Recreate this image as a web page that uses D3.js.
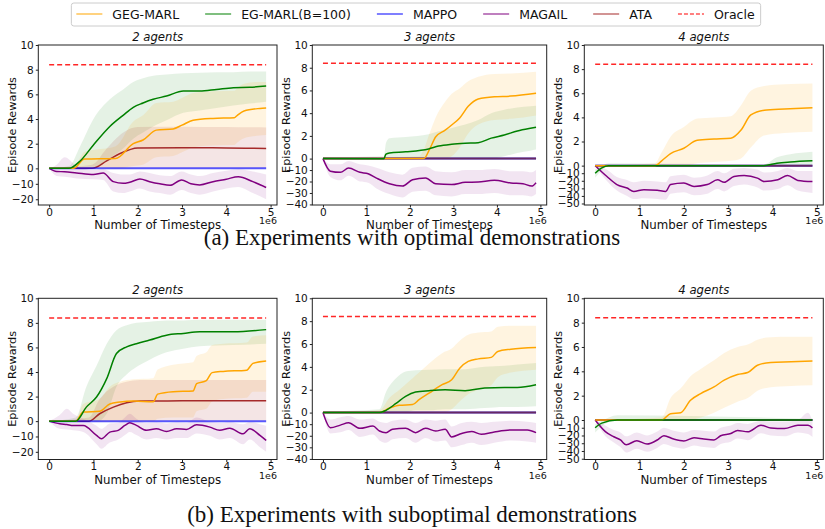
<!DOCTYPE html>
<html>
<head>
<meta charset="utf-8">
<script src="https://cdn.jsdelivr.net/npm/d3@7"></script>
<style>
  body { margin: 0; background: #fff; }
  svg text { font-family: "DejaVu Sans", sans-serif; fill: #111; }
</style>
</head>
<body>
<svg width="825" height="529"></svg>
<script>
// ---- data. rows are [timestep (1e6), mean, band low, band high]
var seriesNames = ["GEG-MARL", "EG-MARL(B=100)", "MAPPO", "MAGAIL", "ATA", "Oracle"];
var panelTitles = ["2 agents", "3 agents", "4 agents", "2 agents", "3 agents", "4 agents"];
var captions = ["(a) Experiments with optimal demonstrations", "(b) Experiments with suboptimal demonstrations"];
var xTicks = [0, 1, 2, 3, 4, 5];
var yTicks2 = [10, 8, 6, 4, 2, 0, -10, -20];
var yTicks3 = [10, 8, 6, 4, 2, 0, -10, -20, -30, -40];
var yTicks4 = [10, 8, 6, 4, 2, 0, -10, -20, -30, -40, -50];
var yBottom = [-23.7, -40.5, -52, -25, -40.5, -51];
var oracle = [8.4, 8.4, 8.4, 8.4, 8.4, 8.4];
var flat = [[0, 0, 0, 0], [4.9, 0, 0, 0]];

// (a) optimal, 2 agents
var a1_geg = [[0,0,0,0],[0.55,0,-0.1,0.1],[0.8,0.75,0.15,1.35],[1.5,0.8,-0.2,1.8],[1.9,2.0,0.2,3.8],[2.12,2.3,0.3,4.3],[2.42,3.1,0.9,5.3],[2.8,3.2,1.0,5.4],[3.0,3.5,1.3,5.7],[3.25,3.9,1.7,6.1],[3.7,4.05,1.85,6.25],[4.18,4.1,1.9,6.3],[4.25,4.3,2.1,6.5],[4.4,4.65,2.45,6.85],[4.76,4.86,2.66,7.0],[4.9,4.9,2.7,7.0]];
var a1_eg = [[0,0,0,0],[0.45,0,-0.2,0.2],[0.7,0.6,-0.6,1.8],[1.0,1.9,-0.2,4.0],[1.37,3.4,0.8,5.6],[1.67,4.3,1.6,6.4],[1.9,4.95,2.4,7.0],[2.12,5.3,2.9,7.3],[2.35,5.6,3.4,7.5],[2.65,5.86,3.9,7.6],[3.03,6.27,4.5,7.7],[3.4,6.27,4.7,7.75],[3.78,6.4,4.9,7.8],[4.16,6.54,5.1,7.8],[4.53,6.57,5.25,7.85],[4.9,6.67,5.4,7.85]];
var a1_ata = [[0,0,0,0],[0.97,0,-0.3,0.3],[1.3,0.6,-0.4,1.6],[1.6,1.2,-0.3,2.7],[2.0,1.65,-0.05,3.35],[3.0,1.68,-0.02,3.38],[4.0,1.65,-0.05,3.35],[4.9,1.62,-0.08,3.32]];
var a1_magail = [[0,0,0,0],[0.17,-2,-5,0.3],[0.35,-2.2,-5.5,0.9],[0.62,-3,-6.5,0.2],[1.0,-4,-7,-1],[1.22,-3,-7.5,-0.5],[1.45,-8.6,-15,-3],[1.67,-9.7,-16,-4],[1.82,-9,-15,-4],[2.05,-6.9,-13,-2],[2.27,-8.6,-15,-3],[2.5,-10,-16,-4.5],[2.73,-11,-17,-5],[2.99,-7.5,-14,-2],[3.2,-10,-16,-4],[3.4,-10.7,-17,-5],[3.7,-8.6,-15,-3],[4.0,-7,-13,-1.5],[4.27,-5.4,-12,-0.5],[4.6,-8.6,-16,-2],[4.9,-12.4,-20,-4]];

// (a) optimal, 3 agents
var a2_geg = [[0,0,0,0],[2.2,0,-0.1,0.2],[2.32,0,-0.2,0.8],[2.45,0.8,-0.3,2.2],[2.59,1.9,-0.2,3.6],[2.81,2.5,0,5.0],[2.96,2.96,0.2,5.7],[3.15,3.6,1.0,6.2],[3.34,4.6,2.2,6.8],[3.57,5.25,3.0,7.2],[3.94,5.45,3.4,7.45],[4.32,5.5,3.5,7.5],[4.9,5.75,3.8,7.65]];
var a2_eg = [[0,0,-0.1,0.1],[1.4,-0.05,-0.3,0.2],[1.45,0.4,-0.6,1.4],[1.53,0.5,-0.8,1.8],[1.9,0.6,-0.7,1.9],[2.43,0.85,-0.45,2.15],[2.66,1.1,-0.2,2.4],[2.96,1.26,-0.1,2.7],[3.27,1.35,-0.2,3.0],[3.57,1.4,-0.3,3.4],[3.87,1.8,-0.2,4.0],[4.17,2.08,0.2,4.3],[4.47,2.43,0.5,4.5],[4.77,2.67,0.7,4.6],[4.9,2.76,0.8,4.65]];
var a2_magail = [[0,0,0,0],[0.17,-11,-16,-5],[0.4,-12,-19,-5],[0.59,-8.3,-15,-2],[0.85,-12,-20,-5],[1.04,-13.2,-21,-6],[1.23,-17,-26,-8],[1.53,-22,-31,-12],[1.83,-24,-34,-14],[2.06,-18.4,-29,-8],[2.36,-17,-28,-7],[2.59,-22,-32,-11],[2.96,-22.7,-33,-12],[3.27,-20.7,-31,-10],[3.57,-20.4,-31,-10],[3.94,-19,-30,-9],[4.32,-21.3,-32,-11],[4.6,-22,-32,-11],[4.8,-24,-33,-12],[4.9,-21,-31,-10]];

// (a) optimal, 4 agents
var a3_geg = [[0,0,0,0],[1.35,0,-0.1,0.2],[1.5,0.4,-0.3,1.1],[1.7,1.0,-0.4,2.4],[2.0,1.44,-0.2,3.2],[2.3,2.1,0.2,3.9],[2.68,2.2,0.3,4.0],[3.06,2.27,0.4,4.1],[3.29,2.95,0.6,5.0],[3.51,4.2,1.5,6.2],[3.81,4.6,2.5,6.6],[4.27,4.7,2.7,6.75],[4.9,4.8,2.8,6.8]];
var a3_eg = [[0,-10,-16,-5],[0.15,-3,-6,-0.5],[0.3,0,-0.3,0.2],[3.8,0,-0.1,0.1],[4.1,0.2,-0.2,0.7],[4.4,0.3,-0.1,0.95],[4.9,0.4,-0.1,1.15]];
var a3_magail = [[0,0,0,0],[0.26,-14,-20,-5],[0.49,-25,-33,-15],[0.72,-29.6,-40,-19],[0.87,-34,-44,-22],[1.1,-31.7,-43,-20],[1.4,-32.6,-44,-21],[1.59,-34,-45,-22],[1.7,-25,-37,-14],[2.0,-23,-35,-12],[2.23,-27.4,-39,-16],[2.53,-25,-37,-13],[2.76,-18.7,-31,-7],[2.91,-22,-34,-10],[3.13,-14.3,-27,-4],[3.36,-13,-25,-3],[3.66,-16.5,-29,-5],[3.81,-21,-33,-9],[4.12,-18.7,-31,-7],[4.34,-13,-26,-3],[4.57,-19.5,-33,-7],[4.9,-21,-36,-7]];

// (b) suboptimal, 2 agents
var b1_geg = [[0,0,0,0],[0.6,0,-0.1,0.1],[0.77,0.74,0.1,1.4],[1.14,0.8,-0.2,1.8],[1.37,1.4,0,2.8],[1.6,1.55,0,3.2],[1.9,1.63,-0.1,3.4],[2.35,1.58,-0.2,3.5],[2.45,2.2,0.2,4.2],[2.8,2.4,0.3,4.6],[3.25,2.45,0.3,4.8],[3.33,3.05,0.8,5.3],[3.55,3.3,1.0,5.6],[3.68,3.95,1.6,6.2],[3.93,4.05,1.8,6.3],[4.46,4.15,1.9,6.4],[4.6,4.7,2.4,6.9],[4.9,4.9,2.4,7.0]];
var b1_eg = [[0,0,0,0],[0.6,0,-0.2,0.3],[0.84,1.14,-0.4,2.8],[1.07,1.96,-0.4,4.5],[1.3,3.46,0.6,6.3],[1.52,5.5,2.8,7.4],[1.75,6.05,3.8,7.8],[1.97,6.3,4.4,8.0],[2.27,6.6,5.0,8.1],[2.65,7.0,5.6,8.2],[3.03,7.14,5.9,8.2],[3.4,7.27,6.1,8.25],[4.16,7.27,6.2,8.25],[4.9,7.45,6.3,8.25]];
var b1_ata = [[0,0,0,0],[0.9,0,-0.3,0.3],[1.14,0.6,-0.5,1.8],[1.45,1.14,-0.4,2.8],[1.75,1.5,-0.2,3.2],[2.05,1.63,-0.05,3.35],[3.0,1.65,-0.05,3.35],[4.0,1.65,-0.05,3.35],[4.9,1.65,-0.05,3.35]];
var b1_magail = [[0,0,0,0],[0.24,-1.7,-5,0.5],[0.4,-2.2,-5.5,1.0],[0.54,-2.8,-6,0.6],[0.77,-2.8,-7,0.2],[1.07,-9.3,-15,-3],[1.18,-11.5,-18,-5],[1.37,-7.2,-14,-1.5],[1.56,-6,-12,-1],[1.71,-2.8,-9,0.3],[1.82,-1.1,-7,0.6],[1.97,-2.8,-9,0.2],[2.2,-6,-12,-1],[2.42,-5,-11,-0.8],[2.65,-6.7,-12,-1.5],[2.88,-5,-11,-0.8],[3.1,-5.4,-11,-1],[3.33,-2.4,-8,0.3],[3.63,-3.9,-9.5,-0.3],[3.85,-6,-12,-1],[4.08,-4.6,-11,-0.5],[4.38,-8.3,-15,-2],[4.53,-5,-12,-0.5],[4.76,-9.3,-17,-2],[4.9,-12.6,-20,-3]];

// (b) suboptimal, 3 agents
var b2_geg = [[0,0,0,0],[1.3,0,-0.1,0.2],[1.53,0.4,-0.3,1.3],[1.76,0.64,-0.4,2.0],[2.06,0.7,-0.6,3.0],[2.21,1.13,-0.5,3.5],[2.44,1.7,-0.3,4.3],[2.74,2.44,0,5.2],[2.96,2.88,0.3,5.6],[3.15,3.9,1.0,6.3],[3.34,4.48,1.6,6.8],[3.57,4.7,2.0,7.0],[3.87,4.83,2.4,7.1],[4.02,5.35,3.1,7.5],[4.32,5.55,3.5,7.6],[4.9,5.7,3.75,7.6]];
var b2_eg = [[0,0,-0.1,0.1],[1.3,0,-0.2,0.3],[1.45,0.2,-0.5,1.8],[1.68,0.8,-0.3,3.0],[1.9,1.42,0,3.6],[2.13,1.8,0.2,3.7],[2.44,1.92,0.2,3.75],[2.81,2.0,0.3,3.8],[3.27,1.92,0.3,3.8],[3.72,2.15,0.4,4.0],[4.17,2.2,0.5,4.1],[4.47,2.2,0.5,4.2],[4.9,2.44,0.55,4.33]];
var b2_magail = [[0,0,0,0],[0.17,-13,-18,-6],[0.4,-10.8,-17,-4],[0.59,-8.8,-15,-3],[0.85,-13.6,-21,-6],[1.15,-11.6,-19,-5],[1.3,-15.9,-24,-8],[1.45,-17.3,-26,-9],[1.6,-14.4,-23,-7],[1.9,-13.6,-22,-6],[2.13,-17.3,-26,-9],[2.36,-13.6,-22,-6],[2.59,-15.9,-25,-7],[2.81,-14.4,-24,-6],[2.96,-21,-30,-12],[3.19,-18,-28,-9],[3.42,-16.4,-26,-8],[3.64,-18.7,-28,-9],[3.94,-16.7,-26,-8],[4.32,-15,-24,-7],[4.7,-15,-25,-8],[4.9,-17.3,-26,-9]];

// (b) suboptimal, 4 agents
var b3_geg = [[0,0,0,0],[1.5,0,-0.1,0.2],[1.7,0.52,-0.3,1.8],[1.93,0.6,-0.4,2.6],[2.15,1.62,-0.1,3.6],[2.38,2.17,0.2,4.2],[2.68,2.72,0.6,4.9],[2.91,3.27,1.0,5.5],[3.21,3.74,1.5,6.0],[3.44,3.9,1.8,6.2],[3.66,4.5,2.4,6.6],[3.96,4.73,2.7,6.8],[4.42,4.78,2.8,6.84],[4.9,4.84,2.86,6.84]];
var b3_eg = [[0,-10,-16,-5],[0.15,-4,-8,-1],[0.5,0,-0.3,0.4],[4.9,0,-0.1,0.1]];
var b3_magail = [[0,0,0,0],[0.23,-15,-21,-7],[0.42,-21.6,-29,-13],[0.57,-25.8,-35,-16],[0.7,-32,-42,-21],[0.94,-26.7,-37,-16],[1.17,-31,-41,-20],[1.4,-25.8,-36,-15],[1.55,-20.3,-31,-10],[1.77,-24.6,-35,-14],[2.0,-27,-37,-16],[2.23,-22.9,-33,-13],[2.45,-24.6,-35,-14],[2.68,-25.8,-36,-15],[2.83,-20.3,-31,-10],[3.06,-17.4,-28,-7],[3.21,-13.5,-24,-4],[3.44,-15.2,-26,-5],[3.74,-6.8,-17,-1],[3.96,-10.2,-20,-2],[4.27,-11,-21,-2],[4.57,-6.8,-16,0],[4.8,-6.8,-18,0.6],[4.9,-10.2,-22,-1]];

// ---- layout
var colors = ["#ffa500", "#008000", "#0000ff", "#800080", "#a52a2a", "#ff0000"];
var colsX = [[38.3, 277], [312.3, 546.7], [584.3, 823.3]];
var rowsY = [[45, 205], [298.3, 459.5]];
var zeroFrac = [0.771, 0.71, 0.754, 0.762, 0.709, 0.755];

var panels = [
  {geg: a1_geg, eg: a1_eg, ata: a1_ata, magail: a1_magail, yt: yTicks2},
  {geg: a2_geg, eg: a2_eg, ata: flat, magail: a2_magail, yt: yTicks3},
  {geg: a3_geg, eg: a3_eg, ata: flat, magail: a3_magail, yt: yTicks4},
  {geg: b1_geg, eg: b1_eg, ata: b1_ata, magail: b1_magail, yt: yTicks2},
  {geg: b2_geg, eg: b2_eg, ata: flat, magail: b2_magail, yt: yTicks3},
  {geg: b3_geg, eg: b3_eg, ata: flat, magail: b3_magail, yt: yTicks4}
];

var svg = d3.select("svg");

panels.forEach(function(p, i) {
  var cx = colsX[i % 3], ry = rowsY[Math.floor(i / 3)];
  var zeroY = ry[0] + zeroFrac[i] * (ry[1] - ry[0]);

  var x = d3.scaleLinear().domain([-0.245, 5.145]).range([cx[0], cx[1]]);
  // positive rewards and negative rewards use different linear pieces
  var y = d3.scaleLinear().domain([yBottom[i], 0, 10]).range([ry[1], zeroY, ry[0]]);

  var g = svg.append("g");
  var clipId = "clip" + i;
  g.append("clipPath").attr("id", clipId).append("rect")
    .attr("x", cx[0]).attr("y", ry[0]).attr("width", cx[1] - cx[0]).attr("height", ry[1] - ry[0]);
  var plot = g.append("g").attr("clip-path", "url(#" + clipId + ")");

  var area = d3.area().curve(d3.curveMonotoneX)
    .x(function(d) { return x(d[0]); })
    .y0(function(d) { return y(d[2]); })
    .y1(function(d) { return y(d[3]); });
  var line = d3.line().curve(d3.curveMonotoneX)
    .x(function(d) { return x(d[0]); })
    .y(function(d) { return y(d[1]); });

  // bands
  plot.append("path").datum(p.eg).attr("d", area).attr("fill", colors[1]).attr("fill-opacity", 0.1);
  plot.append("path").datum(p.geg).attr("fill", colors[0]).attr("fill-opacity", 0.12).attr("d", area);
  plot.append("path").datum(p.ata).attr("fill", colors[4]).attr("fill-opacity", 0.12).attr("d", area);
  plot.append("path").datum(p.magail).attr("fill", colors[3]).attr("fill-opacity", 0.1).attr("d", area);

  // mean lines
  var ataFlat = (p.ata === flat);
  plot.append("path").datum(p.magail).attr("d", line).attr("fill", "none")
    .attr("stroke", colors[3]).attr("stroke-width", 1.5);
  if (!ataFlat) {
    plot.append("path").datum(p.ata).attr("d", line).attr("fill", "none")
      .attr("stroke", colors[4]).attr("stroke-width", 1.5);
  }
  plot.append("path").datum(flat).attr("d", line).attr("fill", "none")
    .attr("stroke", colors[2]).attr("stroke-opacity", 0.65).attr("stroke-width", 2);
  if (ataFlat) {
    // ATA sits on MAPPO here, the overlap reads dark plum
    plot.append("path").datum(p.ata).attr("d", line).attr("fill", "none")
      .attr("stroke", "#6a1f4a").attr("stroke-opacity", 0.85).attr("stroke-width", 2);
  }
  plot.append("path").datum(p.geg).attr("d", line).attr("fill", "none")
    .attr("stroke", colors[0]).attr("stroke-width", 1.5);
  plot.append("path").datum(p.eg).attr("d", line).attr("fill", "none")
    .attr("stroke", colors[1]).attr("stroke-width", 1.5);
  plot.append("line")
    .attr("x1", x(0)).attr("x2", x(4.9)).attr("y1", y(oracle[i])).attr("y2", y(oracle[i]))
    .attr("stroke", colors[5]).attr("stroke-opacity", 0.85).attr("stroke-width", 1.5)
    .attr("stroke-dasharray", "5,3");

  // axes
  var xa = g.append("g").attr("transform", "translate(0," + ry[1] + ")")
    .call(d3.axisBottom(x).tickValues(xTicks).tickFormat(d3.format("d"))
      .tickSize(2.5).tickPadding(1).tickSizeOuter(0));
  var ya = g.append("g").attr("transform", "translate(" + cx[0] + ",0)")
    .call(d3.axisLeft(y).tickValues(p.yt).tickFormat(d3.format("d"))
      .tickSize(2.5).tickPadding(2).tickSizeOuter(0));
  [xa, ya].forEach(function(a) {
    a.select(".domain").remove();
    a.selectAll("text").attr("font-size", 10.5).attr("fill", "#222");
    a.selectAll("line").attr("stroke", "#222");
  });

  g.append("rect").attr("x", cx[0]).attr("y", ry[0])
    .attr("width", cx[1] - cx[0]).attr("height", ry[1] - ry[0])
    .attr("fill", "none").attr("stroke", "#222").attr("stroke-width", 1);

  var mid = (cx[0] + cx[1]) / 2;
  g.append("text").attr("x", mid).attr("y", ry[0] - 4).attr("text-anchor", "middle")
    .attr("font-size", 11.7).attr("font-style", "italic").text(panelTitles[i]);
  g.append("text").attr("x", mid).attr("y", ry[1] + 24).attr("text-anchor", "middle")
    .attr("font-size", 11.8).text("Number of Timesteps");
  g.append("text").attr("x", cx[1]).attr("y", ry[1] + 19).attr("text-anchor", "end")
    .attr("font-size", 9.5).text("1e6");
  g.append("text")
    .attr("transform", "translate(" + (cx[0] - 22.5) + "," + ((ry[0] + ry[1]) / 2) + ") rotate(-90)")
    .attr("text-anchor", "middle").attr("font-size", 11.3).text("Episode Rewards");
});

// captions
svg.append("text").attr("x", 412).attr("y", 244.5).attr("text-anchor", "middle")
  .style("font-family", "'Liberation Serif', serif").attr("font-size", 23).text(captions[0]);
svg.append("text").attr("x", 412).attr("y", 521.5).attr("text-anchor", "middle")
  .style("font-family", "'Liberation Serif', serif").attr("font-size", 23).text(captions[1]);

// legend
var leg = svg.append("g");
var lx = 0;
seriesNames.forEach(function(name, i) {
  leg.append("line").attr("x1", lx).attr("x2", lx + 26).attr("y1", 14).attr("y2", 14)
    .attr("stroke", colors[i]).attr("stroke-opacity", 0.5).attr("stroke-width", 2)
    .attr("stroke-dasharray", i === 5 ? "4,2" : null);
  var t = leg.append("text").attr("x", lx + 36).attr("y", 18.5).attr("font-size", 12.5).text(name);
  lx = lx + 36 + t.node().getComputedTextLength() + 26;
});
var legW = lx - 26 + 11;
leg.insert("rect", ":first-child").attr("x", -5).attr("y", 3).attr("width", legW).attr("height", 23)
  .attr("rx", 2.5).attr("fill", "#fff").attr("stroke", "#ccc").attr("stroke-width", 1);
leg.attr("transform", "translate(" + (416 - legW / 2 + 5) + ",0)");
</script>
</body>
</html>
